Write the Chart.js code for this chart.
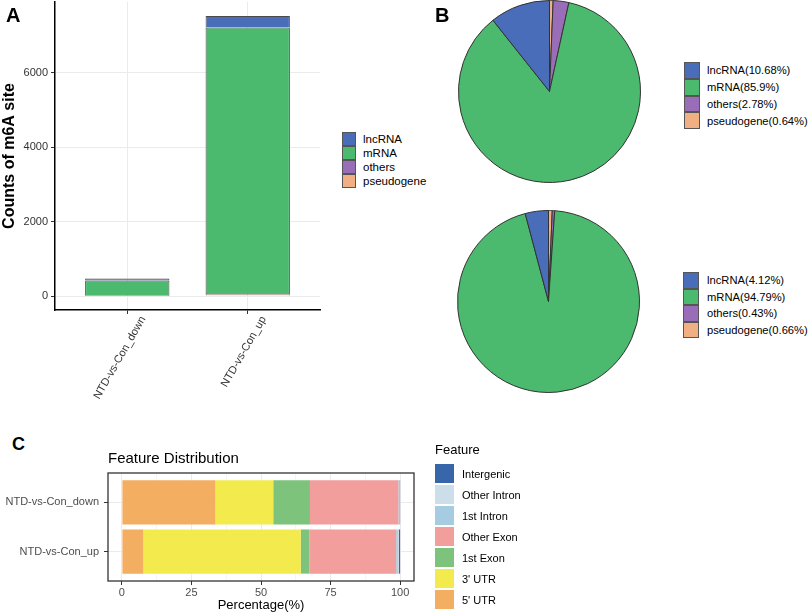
<!DOCTYPE html>
<html>
<head>
<meta charset="utf-8">
<script src="https://cdn.jsdelivr.net/npm/chart.js@4.4.0/dist/chart.umd.min.js"></script>
<style>
body{margin:0;background:#fff;font-family:"Liberation Sans",Arial,sans-serif;}
#wrap{position:relative;width:809px;height:614px;overflow:hidden;background:#fff;}
canvas{position:absolute;}
.tag{position:absolute;font-weight:bold;line-height:1;color:#000;}
.txt{position:absolute;line-height:1;color:#000;}
.leg{position:absolute;color:#000;}
.leg .row{display:flex;align-items:center;white-space:nowrap;}
.leg .box{box-sizing:border-box;flex:none;}
</style>
</head>
<body>
<div id="wrap">
  <canvas id="cA" width="330" height="420" style="left:0;top:0"></canvas>
  <canvas id="cB1" width="183" height="183" style="left:458px;top:0"></canvas>
  <canvas id="cB2" width="183" height="183" style="left:457px;top:210px"></canvas>
  <canvas id="cC" width="420" height="154" style="left:0;top:460px"></canvas>
  <div class="tag" style="left:6px;top:5px;font-size:20px">A</div>
  <div class="tag" style="left:435px;top:5px;font-size:20px">B</div>
  <div class="tag" style="left:12px;top:435px;font-size:18px">C</div>
  <div class="txt" style="left:108px;top:450px;font-size:15px">Feature Distribution</div>
  <div class="txt" style="left:435px;top:443px;font-size:13px">Feature</div>
  <div class="leg" id="legA" style="left:342px;top:132px"></div>
  <div class="leg" id="legB1" style="left:684px;top:62px"></div>
  <div class="leg" id="legB2" style="left:683px;top:272px"></div>
  <div class="leg" id="legC" style="left:435px;top:463px"></div>
</div>
<script>
// panel A / B data
const groups = ['NTD-vs-Con_down', 'NTD-vs-Con_up'];
const rnaTypes = ['lncRNA', 'mRNA', 'others', 'pseudogene'];
const rnaColors = ['#4a6db9', '#4bba6f', '#9a6db9', '#f0b083'];
const lncCounts = [50, 310];
const mrnaCounts = [404, 7139];
const othersCounts = [13, 32];
const pseudoCounts = [3, 50];
const yTicksA = [0, 2000, 4000, 6000];

const pieDown = [10.68, 85.9, 2.78, 0.64];
const pieUp = [4.12, 94.79, 0.43, 0.66];

// panel C data
const features = ["5' UTR", "3' UTR", '1st Exon', 'Other Exon', '1st Intron', 'Other Intron', 'Intergenic'];
const featColors = ['#f4ae62', '#f3ea4e', '#7dc37b', '#f19e9d', '#a5cce0', '#cddeeb', '#3766aa'];
const utr5 = [33.6, 7.7];
const utr3 = [20.8, 56.6];
const exon1 = [13.2, 3.1];
const exonOther = [31.8, 31.2];
const intron1 = [0.3, 0.6];
const intronOther = [0.1, 0.3];
const intergenic = [0.2, 0.5];
const xTicksC = [0, 25, 50, 75, 100];

Chart.defaults.font.family = "'Liberation Sans', Arial, sans-serif";

const countsByType = [lncCounts, mrnaCounts, othersCounts, pseudoCounts];

// A: stacked bars, pseudogene at the bottom
let dsA = [];
for (let i = rnaTypes.length - 1; i >= 0; i--) {
    dsA.push({
        label: rnaTypes[i],
        data: groups.map((g, j) => ({x: j + 1, y: countsByType[i][j]})),
        backgroundColor: rnaColors[i],
        borderColor: '#4a4a4a',
        borderWidth: 1,
        barPercentage: 0.7,
        categoryPercentage: 1
    });
}

new Chart(document.getElementById('cA'), {
    type: 'bar',
    data: {datasets: dsA},
    options: {
        responsive: false,
        animation: false,
        layout: {padding: {top: 2, right: 10, left: 0, bottom: 0}},
        plugins: {legend: {display: false}, tooltip: {enabled: false}},
        scales: {
            x: {
                type: 'linear', stacked: true, min: 0.4, max: 2.6, offset: false,
                afterBuildTicks: s => { s.ticks = groups.map((g, i) => ({value: i + 1})); },
                afterFit: s => { s.height = 110; },
                ticks: {
                    callback: v => groups[v - 1],
                    minRotation: 60, maxRotation: 60, autoSkip: false, labelOffset: 16,
                    color: '#333', font: {size: 11}, padding: 0
                },
                grid: {color: '#ebebeb', tickColor: '#333', tickLength: 4, offset: false},
                border: {display: true, color: '#000', width: 1.5}
            },
            y: {
                stacked: true, min: -376.5, max: 7907.5,
                afterBuildTicks: s => { s.ticks = yTicksA.map(v => ({value: v})); },
                afterFit: s => { s.width = 55; s.paddingTop = 0; s.paddingBottom = 0; },
                ticks: {callback: v => String(v), color: '#333', font: {size: 11}, padding: 3},
                grid: {color: '#ebebeb', tickColor: '#333', tickLength: 4},
                border: {display: true, color: '#000', width: 1.5},
                title: {display: true, text: 'Counts of m6A site', color: '#000', font: {size: 16, weight: 'bold'}, padding: 0}
            }
        }
    }
});

// B: pies, clockwise from 12 o'clock: pseudogene, others, mRNA, lncRNA
function makePie(id, vals) {
    new Chart(document.getElementById(id), {
        type: 'pie',
        data: {
            labels: rnaTypes.slice().reverse(),
            datasets: [{
                data: vals.slice().reverse(),
                backgroundColor: rnaColors.slice().reverse(),
                borderColor: '#333',
                borderWidth: 1
            }]
        },
        options: {
            responsive: false,
            animation: false,
            layout: {padding: 0},
            plugins: {legend: {display: false}, tooltip: {enabled: false}}
        }
    });
}
makePie('cB1', pieDown);
makePie('cB2', pieUp);

// C: horizontal stacked percentage bars
const featVals = [utr5, utr3, exon1, exonOther, intron1, intronOther, intergenic];
const dsC = features.map((f, i) => ({
    label: f,
    data: groups.map((g, j) => ({x: featVals[i][j], y: j + 1})),
    backgroundColor: featColors[i],
    borderWidth: 0,
    barPercentage: 0.9,
    categoryPercentage: 1
}));

const panelBorder = {
    id: 'panelBorder',
    afterDatasetsDraw(chart) {
        const {ctx, chartArea: a} = chart;
        ctx.save();
        ctx.strokeStyle = '#333';
        ctx.lineWidth = 1.3;
        ctx.strokeRect(a.left, a.top, a.right - a.left, a.bottom - a.top);
        ctx.restore();
    }
};

const isMajor = v => xTicksC.indexOf(v) >= 0;

new Chart(document.getElementById('cC'), {
    type: 'bar',
    data: {datasets: dsC},
    plugins: [panelBorder],
    options: {
        indexAxis: 'y',
        responsive: false,
        animation: false,
        layout: {padding: {top: 13, right: 6, left: 0, bottom: 0}},
        plugins: {legend: {display: false}, tooltip: {enabled: false}},
        scales: {
            x: {
                type: 'linear', stacked: true, min: -5, max: 105, offset: false,
                afterBuildTicks: s => {
                    let t = [];
                    for (let i = 0; i < xTicksC.length; i++) {
                        t.push({value: xTicksC[i]});
                        if (i < xTicksC.length - 1) t.push({value: (xTicksC[i] + xTicksC[i + 1]) / 2});
                    }
                    s.ticks = t;
                },
                afterFit: s => { s.height = 33; },
                ticks: {
                    callback: v => isMajor(v) ? String(v) : '',
                    autoSkip: false, maxRotation: 0, color: '#4d4d4d', font: {size: 11}, padding: 1
                },
                grid: {
                    color: c => (c.tick && isMajor(c.tick.value)) ? '#ebebeb' : '#f5f5f5',
                    tickColor: c => (c.tick && isMajor(c.tick.value)) ? '#333' : 'rgba(0,0,0,0)',
                    tickLength: 4, offset: false
                },
                border: {display: false},
                title: {display: true, text: 'Percentage(%)', color: '#000', font: {size: 13}, padding: {top: 0, bottom: 1}}
            },
            y: {
                type: 'linear', stacked: true, min: 0.4, max: 2.6, reverse: true, offset: false,
                afterBuildTicks: s => { s.ticks = groups.map((g, i) => ({value: i + 1})); },
                afterFit: s => { s.width = 108; s.paddingTop = 0; s.paddingBottom = 0; },
                ticks: {callback: v => groups[v - 1], autoSkip: false, color: '#4d4d4d', font: {size: 11}, padding: 5},
                grid: {color: '#ebebeb', tickColor: '#333', tickLength: 4, offset: false},
                border: {display: false}
            }
        }
    }
});

// legends
function makeLegend(id, labels, colors, o) {
    const el = document.getElementById(id);
    labels.forEach((l, i) => {
        const row = document.createElement('div');
        row.className = 'row';
        row.style.height = o.step + 'px';
        const b = document.createElement('div');
        b.className = 'box';
        b.style.width = o.bw + 'px';
        b.style.height = o.bh + 'px';
        b.style.background = colors[i];
        if (o.border) b.style.border = '1px solid ' + o.border;
        const t = document.createElement('span');
        t.textContent = l;
        t.style.fontSize = o.fs + 'px';
        t.style.marginLeft = o.gap + 'px';
        row.appendChild(b);
        row.appendChild(t);
        el.appendChild(row);
    });
}
makeLegend('legA', rnaTypes, rnaColors, {step: 14, bw: 14, bh: 14, border: '#555', fs: 11.5, gap: 7});
makeLegend('legB1', rnaTypes.map((t, i) => t + '(' + pieDown[i] + '%)'), rnaColors, {step: 16.8, bw: 16, bh: 16.8, border: '#555', fs: 11.2, gap: 7});
makeLegend('legB2', rnaTypes.map((t, i) => t + '(' + pieUp[i] + '%)'), rnaColors, {step: 16.6, bw: 16, bh: 16.6, border: '#555', fs: 11.2, gap: 8});
makeLegend('legC', features.slice().reverse(), featColors.slice().reverse(), {step: 21, bw: 19, bh: 19, border: null, fs: 11, gap: 8});
</script>
</body>
</html>
